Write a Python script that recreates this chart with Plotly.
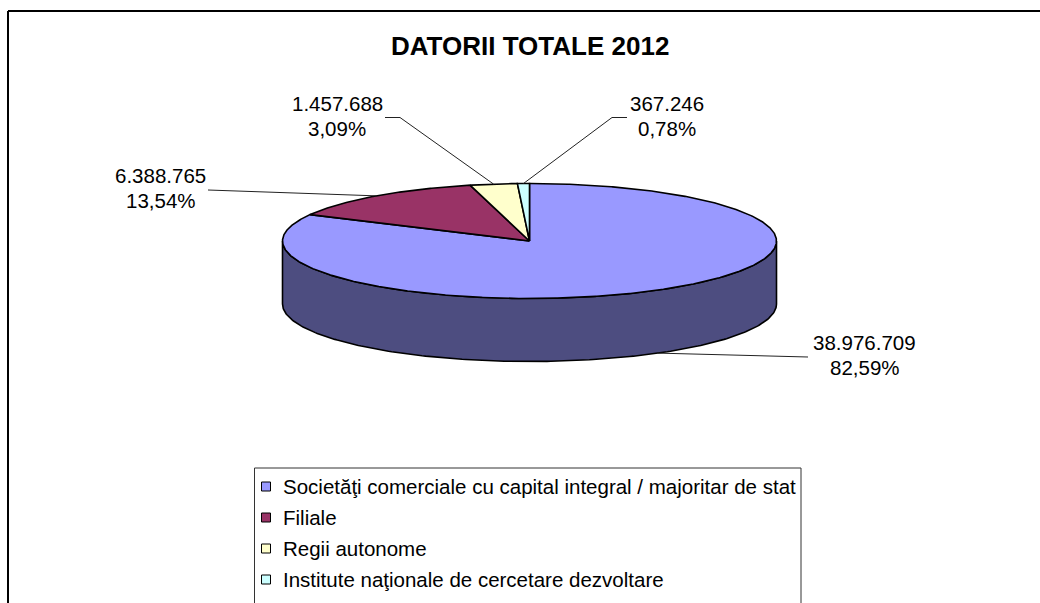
import numpy as np
import plotly.graph_objects as go

# ---------------- data ----------------
title = "DATORII TOTALE 2012"
categories = [
    "Societăţi comerciale cu capital integral / majoritar de stat",
    "Filiale",
    "Regii autonome",
    "Institute naţionale de cercetare dezvoltare",
]
values = [38976709, 6388765, 1457688, 367246]
colors = ["#9999FF", "#993366", "#FFFFCC", "#CCFFFF"]
side_colors = ["#4D4D80", "#4D1A33", "#808066", "#668080"]

# ---------------- layout constants (pixels) ----------------
W, H = 1040, 603
CX, CY, RX, RY, DEPTH = 529.5, 241.0, 247.0, 57.5, 63.0
FONT = "Liberation Sans, Arial, sans-serif"

# label text centres (x, y of first line) and leader elbow points
label_pos = [(864.5, 342.0), (160.5, 175.0), (337.0, 103.5), (667.0, 103.5)]
leader_from = [[(808, 357)], [(208, 190)], [(385, 117.5), (400, 117.5)], [(627, 117.5), (612, 117.5)]]

total = float(sum(values))
shares = [v / total for v in values]


def pt(theta_deg, dy=0.0):
    t = np.radians(theta_deg)
    return CX + RX * np.sin(t), CY - RY * np.cos(t) + dy


fig = go.Figure()

# slice angle ranges (clockwise from 12 o'clock)
bounds = []
acc = 0.0
for s in shares:
    bounds.append((acc * 360.0, (acc + s) * 360.0))
    acc += s

# side walls (visible front half: 90..270 deg)
for i, (a, b) in enumerate(bounds):
    lo, hi = max(a, 90.0), min(b, 270.0)
    if hi <= lo:
        continue
    th = np.linspace(lo, hi, 200)
    xt, yt = pt(th)
    xb, yb = pt(th[::-1], DEPTH)
    xs = np.concatenate([xt, xb, xt[:1]])
    ys = np.concatenate([yt, yb, yt[:1]])
    fig.add_trace(go.Scatter(x=xs, y=ys, mode="lines", fill="toself",
                             fillcolor=side_colors[i], line=dict(color="black", width=1.6),
                             hoverinfo="skip", showlegend=False))

# top faces
for i, (a, b) in enumerate(bounds):
    n = max(int((b - a) * 3), 4)
    th = np.linspace(a, b, n)
    xa, ya = pt(th)
    xs = np.concatenate([[CX], xa, [CX]])
    ys = np.concatenate([[CY], ya, [CY]])
    fig.add_trace(go.Scatter(x=xs, y=ys, mode="lines", fill="toself",
                             fillcolor=colors[i], line=dict(color="black", width=1.6),
                             hoverinfo="skip", showlegend=False))

# leader lines + labels
for i, (a, b) in enumerate(bounds):
    mid = (a + b) / 2.0
    if 90 < mid < 270:
        ex, ey = pt(mid, DEPTH)
    else:
        ex, ey = pt(mid)
    pts = leader_from[i] + [(ex, ey)]
    fig.add_trace(go.Scatter(x=[p[0] for p in pts], y=[p[1] for p in pts], mode="lines",
                             line=dict(color="#222222", width=1), hoverinfo="skip",
                             showlegend=False))
    vtxt = f"{values[i]:,}".replace(",", ".")
    ptxt = f"{shares[i] * 100:.2f}".replace(".", ",") + "%"
    lx, ly = label_pos[i]
    for k, t in enumerate([vtxt, ptxt]):
        fig.add_annotation(x=lx, y=ly + 25 * k, text=t, showarrow=False,
                           xref="x", yref="y", xanchor="center", yanchor="middle",
                           font=dict(family=FONT, size=20.5, color="black"))

# title
fig.add_annotation(x=530, y=46, text=f"<b>{title}</b>", showarrow=False, xref="x", yref="y",
                   xanchor="center", yanchor="middle",
                   font=dict(family=FONT, size=26, color="black"))

# legend (drawn manually to match the Excel box)
leg_y0, leg_dy = 486.5, 31.0
fig.add_trace(go.Scatter(
    x=[266] * len(categories), y=[leg_y0 + leg_dy * k for k in range(len(categories))],
    mode="markers", marker=dict(symbol="square", size=9, color=colors,
                                line=dict(color="black", width=1)),
    hoverinfo="skip", showlegend=False))
for k, c in enumerate(categories):
    fig.add_annotation(x=281, y=leg_y0 + leg_dy * k, text=c, showarrow=False, xref="x", yref="y",
                       xanchor="left", yanchor="middle",
                       font=dict(family=FONT, size=20.5, color="black"))


def seg(x0, y0, x1, y1, color, width):
    return dict(type="line", xref="paper", yref="paper",
                x0=x0 / W, y0=1 - y0 / H, x1=x1 / W, y1=1 - y1 / H,
                line=dict(color=color, width=width), layer="below")


fig.update_layout(
    width=W, height=H, margin=dict(l=0, r=0, t=0, b=0),
    paper_bgcolor="white", plot_bgcolor="white",
    xaxis=dict(range=[0, W], visible=False, fixedrange=True),
    yaxis=dict(range=[H, 0], visible=False, fixedrange=True),
    shapes=[
        # outer chart frame (top and left edges visible)
        seg(8, 11, W, 11, "black", 2),
        seg(8, 11, 8, H, "black", 2),
        # legend box (top, left, right edges visible)
        seg(254.5, 468, 801, 468, "#333333", 1),
        seg(254.5, 468, 254.5, H, "#333333", 1),
        seg(801, 468, 801, H, "#333333", 1),
    ],
)

fig.write_html(
    "out.html",
    config={"displayModeBar": False},
    post_script="document.body.style.margin='0';document.body.style.overflow='hidden';",
)
